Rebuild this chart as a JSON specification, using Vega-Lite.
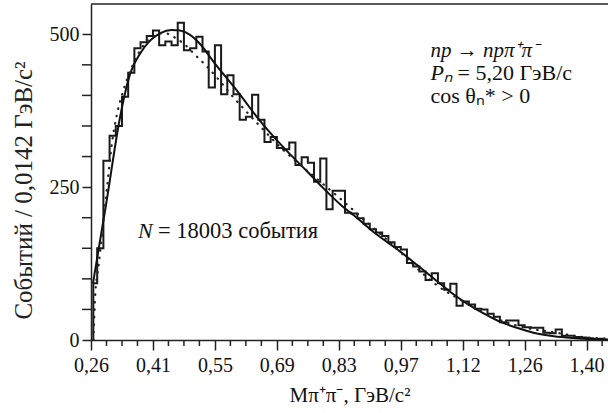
{
  "$schema": "https://vega.github.io/schema/vega-lite/v6.json",
  "width": 517,
  "height": 336,
  "autosize": {"type": "none"},
  "padding": {"left": 91, "right": 0, "top": 4, "bottom": 73},
  "background": "white",
  "config": {
    "view": {"stroke": null},
    "font": "Liberation Serif",
    "axis": {
      "grid": false,
      "domainColor": "#222",
      "domainWidth": 1.5,
      "tickColor": "#222",
      "tickWidth": 1.5,
      "labelColor": "#111",
      "labelFont": "Liberation Serif",
      "labelFontSize": 20,
      "titleFont": "Liberation Serif",
      "titleFontSize": 21,
      "titleFontWeight": "normal",
      "titleColor": "#111"
    }
  },
  "datasets": {
    "hist": [
      {"x": 0.2693, "n": 0},
      {"x": 0.2693, "n": 93},
      {"x": 0.2782, "n": 150},
      {"x": 0.2924, "n": 293},
      {"x": 0.3066, "n": 334},
      {"x": 0.3208, "n": 350},
      {"x": 0.3350, "n": 398},
      {"x": 0.3492, "n": 437},
      {"x": 0.3634, "n": 477},
      {"x": 0.3776, "n": 487},
      {"x": 0.3918, "n": 497},
      {"x": 0.4060, "n": 506},
      {"x": 0.4202, "n": 482},
      {"x": 0.4344, "n": 488},
      {"x": 0.4486, "n": 482},
      {"x": 0.4628, "n": 519},
      {"x": 0.4770, "n": 474},
      {"x": 0.4912, "n": 477},
      {"x": 0.5054, "n": 496},
      {"x": 0.5196, "n": 472},
      {"x": 0.5338, "n": 413},
      {"x": 0.5480, "n": 482},
      {"x": 0.5622, "n": 402},
      {"x": 0.5764, "n": 433},
      {"x": 0.5906, "n": 402},
      {"x": 0.6048, "n": 360},
      {"x": 0.6190, "n": 365},
      {"x": 0.6332, "n": 401},
      {"x": 0.6474, "n": 360},
      {"x": 0.6616, "n": 324},
      {"x": 0.6758, "n": 332},
      {"x": 0.6900, "n": 314},
      {"x": 0.7042, "n": 312},
      {"x": 0.7184, "n": 323},
      {"x": 0.7326, "n": 286},
      {"x": 0.7468, "n": 299},
      {"x": 0.7610, "n": 290},
      {"x": 0.7752, "n": 259},
      {"x": 0.7894, "n": 297},
      {"x": 0.8036, "n": 214},
      {"x": 0.8178, "n": 244},
      {"x": 0.8320, "n": 244},
      {"x": 0.8462, "n": 208},
      {"x": 0.8604, "n": 207},
      {"x": 0.8746, "n": 199},
      {"x": 0.8888, "n": 190},
      {"x": 0.9030, "n": 181},
      {"x": 0.9172, "n": 176},
      {"x": 0.9314, "n": 170},
      {"x": 0.9456, "n": 160},
      {"x": 0.9598, "n": 152},
      {"x": 0.9740, "n": 148},
      {"x": 0.9882, "n": 126},
      {"x": 1.0024, "n": 120},
      {"x": 1.0166, "n": 112},
      {"x": 1.0308, "n": 98},
      {"x": 1.0450, "n": 109},
      {"x": 1.0592, "n": 93},
      {"x": 1.0734, "n": 82},
      {"x": 1.0876, "n": 92},
      {"x": 1.1018, "n": 56},
      {"x": 1.1160, "n": 63},
      {"x": 1.1302, "n": 58},
      {"x": 1.1444, "n": 51},
      {"x": 1.1586, "n": 50},
      {"x": 1.1728, "n": 43},
      {"x": 1.1870, "n": 38},
      {"x": 1.2012, "n": 29},
      {"x": 1.2154, "n": 32},
      {"x": 1.2296, "n": 32},
      {"x": 1.2438, "n": 24},
      {"x": 1.2580, "n": 21},
      {"x": 1.2722, "n": 20},
      {"x": 1.2864, "n": 20},
      {"x": 1.3006, "n": 12},
      {"x": 1.3148, "n": 11},
      {"x": 1.3290, "n": 17},
      {"x": 1.3432, "n": 7},
      {"x": 1.3574, "n": 7},
      {"x": 1.3716, "n": 5},
      {"x": 1.3858, "n": 4},
      {"x": 1.4000, "n": 3},
      {"x": 1.4142, "n": 2},
      {"x": 1.4284, "n": 2},
      {"x": 1.4426, "n": 2}
    ],
    "solid": [
      {"x": 0.2686, "n": 93},
      {"x": 0.300, "n": 228},
      {"x": 0.331, "n": 366},
      {"x": 0.354, "n": 436},
      {"x": 0.377, "n": 469},
      {"x": 0.400, "n": 490},
      {"x": 0.423, "n": 502},
      {"x": 0.449, "n": 507},
      {"x": 0.468, "n": 506},
      {"x": 0.491, "n": 499},
      {"x": 0.514, "n": 484},
      {"x": 0.545, "n": 455},
      {"x": 0.606, "n": 401},
      {"x": 0.644, "n": 365},
      {"x": 0.682, "n": 333},
      {"x": 0.720, "n": 304},
      {"x": 0.759, "n": 276},
      {"x": 0.797, "n": 248},
      {"x": 0.835, "n": 222},
      {"x": 0.873, "n": 200},
      {"x": 0.920, "n": 172},
      {"x": 0.972, "n": 145},
      {"x": 1.011, "n": 123},
      {"x": 1.049, "n": 101},
      {"x": 1.087, "n": 79},
      {"x": 1.125, "n": 60},
      {"x": 1.163, "n": 44},
      {"x": 1.201, "n": 30},
      {"x": 1.240, "n": 20},
      {"x": 1.278, "n": 12},
      {"x": 1.317, "n": 7},
      {"x": 1.354, "n": 4},
      {"x": 1.392, "n": 2},
      {"x": 1.449, "n": 1}
    ],
    "dotted": [
      {"x": 0.2695, "n": 0},
      {"x": 0.274, "n": 77},
      {"x": 0.281, "n": 120},
      {"x": 0.301, "n": 251},
      {"x": 0.312, "n": 322},
      {"x": 0.324, "n": 371},
      {"x": 0.339, "n": 410},
      {"x": 0.358, "n": 447},
      {"x": 0.373, "n": 469},
      {"x": 0.404, "n": 496},
      {"x": 0.434, "n": 502},
      {"x": 0.450, "n": 497},
      {"x": 0.476, "n": 485},
      {"x": 0.503, "n": 466},
      {"x": 0.526, "n": 450},
      {"x": 0.560, "n": 423},
      {"x": 0.583, "n": 403},
      {"x": 0.617, "n": 376},
      {"x": 0.651, "n": 350},
      {"x": 0.697, "n": 316},
      {"x": 0.781, "n": 264},
      {"x": 0.816, "n": 243},
      {"x": 0.842, "n": 227},
      {"x": 0.869, "n": 210},
      {"x": 0.920, "n": 178},
      {"x": 0.970, "n": 146},
      {"x": 1.010, "n": 118},
      {"x": 1.056, "n": 90},
      {"x": 1.120, "n": 62},
      {"x": 1.200, "n": 33},
      {"x": 1.260, "n": 20},
      {"x": 1.331, "n": 12},
      {"x": 1.354, "n": 9},
      {"x": 1.389, "n": 5},
      {"x": 1.423, "n": 3},
      {"x": 1.449, "n": 2}
    ],
    "xminor": [
      {"x": 0.2995}, {"x": 0.335}, {"x": 0.3705}, {"x": 0.4415}, {"x": 0.477}, {"x": 0.5125},
      {"x": 0.5835}, {"x": 0.619}, {"x": 0.6545}, {"x": 0.7255}, {"x": 0.761}, {"x": 0.7965},
      {"x": 0.8675}, {"x": 0.903}, {"x": 0.9385}, {"x": 1.0095}, {"x": 1.045}, {"x": 1.0805},
      {"x": 1.1515}, {"x": 1.187}, {"x": 1.2225}, {"x": 1.2935}, {"x": 1.329}, {"x": 1.3645},
      {"x": 1.4355}
    ],
    "yminor": [
      {"n": 50}, {"n": 100}, {"n": 150}, {"n": 200}, {"n": 300}, {"n": 350}, {"n": 400}, {"n": 450}
    ]
  },
  "layer": [
    {
      "data": {"name": "hist"},
      "mark": {"type": "line", "interpolate": "step-after", "color": "#1a1a1a", "strokeWidth": 2},
      "encoding": {
        "x": {
          "field": "x", "type": "quantitative",
          "scale": {"domain": [0.264, 1.449], "nice": false, "zero": false},
          "axis": {
            "orient": "bottom",
            "values": [0.264, 0.406, 0.548, 0.690, 0.832, 0.974, 1.116, 1.258, 1.400],
            "labelExpr": "replace(format(datum.value, '.2f'), '.', ',')",
            "tickSize": 10,
            "labelPadding": 5,
            "labelFlush": false,
            "labelOverlap": false,
            "labelBound": false,
            "title": "Mπ⁺π⁻, ГэВ/c²",
            "titlePadding": 9
          }
        },
        "y": {
          "field": "n", "type": "quantitative",
          "scale": {"domain": [0, 549.5], "nice": false, "zero": true},
          "axis": {
            "values": [0, 250, 500],
            "labelOverlap": false,
            "tickSize": 9,
            "labelPadding": 3,
            "title": "Событий / 0,0142 ГэВ/c²",
            "titleFont": "Liberation Serif",
            "titleFontWeight": "normal",
            "titleFontSize": 25,
            "titleColor": "#222",
            "titleY": 186,
            "titlePadding": 13
          }
        }
      }
    },
    {
      "data": {"name": "xminor"},
      "mark": {"type": "rule", "color": "#222", "strokeWidth": 1.5, "y2Offset": 6},
      "encoding": {
        "x": {"field": "x", "type": "quantitative"},
        "y": {"datum": 0, "type": "quantitative"},
        "y2": {"datum": 0}
      }
    },
    {
      "data": {"name": "yminor"},
      "mark": {"type": "rule", "color": "#222", "strokeWidth": 1.5, "x2Offset": -9},
      "encoding": {
        "y": {"field": "n", "type": "quantitative"},
        "x": {"datum": 0.264, "type": "quantitative"},
        "x2": {"datum": 0.264}
      }
    },
    {
      "data": {"name": "solid"},
      "mark": {"type": "line", "interpolate": "monotone", "color": "#111", "strokeWidth": 2},
      "encoding": {
        "x": {"field": "x", "type": "quantitative"},
        "y": {"field": "n", "type": "quantitative"}
      }
    },
    {
      "data": {"name": "dotted"},
      "mark": {"type": "line", "interpolate": "monotone", "color": "#222", "strokeWidth": 2.2, "strokeDash": [0.5, 7], "strokeCap": "round"},
      "encoding": {
        "x": {"field": "x", "type": "quantitative"},
        "y": {"field": "n", "type": "quantitative"}
      }
    },
    {
      "data": {"values": [{}]},
      "mark": {"type": "rule", "color": "#222", "strokeWidth": 1.5},
      "encoding": {
        "y": {"datum": 549.5, "type": "quantitative"}
      }
    },
    {
      "data": {"values": [{"t": "np → npπ⁺π⁻"}]},
      "mark": {"type": "text", "align": "left", "baseline": "alphabetic", "fontSize": 21, "fontStyle": "italic", "color": "#111", "font": "Liberation Serif"},
      "encoding": {
        "x": {"datum": 1.042, "type": "quantitative"},
        "y": {"datum": 463, "type": "quantitative"},
        "text": {"field": "t"}
      }
    },
    {
      "data": {"values": [{"t": "Pₙ"}]},
      "mark": {"type": "text", "align": "left", "baseline": "alphabetic", "fontSize": 22, "fontStyle": "italic", "color": "#111", "font": "Liberation Serif"},
      "encoding": {
        "x": {"datum": 1.042, "type": "quantitative"},
        "y": {"datum": 425, "type": "quantitative"},
        "text": {"field": "t"}
      }
    },
    {
      "data": {"values": [{"t": "= 5,20 ГэВ/c"}]},
      "mark": {"type": "text", "align": "left", "baseline": "alphabetic", "fontSize": 22, "color": "#111", "font": "Liberation Serif"},
      "encoding": {
        "x": {"datum": 1.104, "type": "quantitative"},
        "y": {"datum": 425, "type": "quantitative"},
        "text": {"field": "t"}
      }
    },
    {
      "data": {"values": [{"t": "cos θₙ* > 0"}]},
      "mark": {"type": "text", "align": "left", "baseline": "alphabetic", "fontSize": 22, "color": "#111", "font": "Liberation Serif"},
      "encoding": {
        "x": {"datum": 1.042, "type": "quantitative"},
        "y": {"datum": 388, "type": "quantitative"},
        "text": {"field": "t"}
      }
    },
    {
      "data": {"values": [{"t": "N"}]},
      "mark": {"type": "text", "align": "left", "baseline": "alphabetic", "fontSize": 22, "fontStyle": "italic", "color": "#111", "font": "Liberation Serif"},
      "encoding": {
        "x": {"datum": 0.3717, "type": "quantitative"},
        "y": {"datum": 167, "type": "quantitative"},
        "text": {"field": "t"}
      }
    },
    {
      "data": {"values": [{"t": "= 18003 события"}]},
      "mark": {"type": "text", "align": "left", "baseline": "alphabetic", "fontSize": 22.5, "color": "#111", "font": "Liberation Serif"},
      "encoding": {
        "x": {"datum": 0.4175, "type": "quantitative"},
        "y": {"datum": 167, "type": "quantitative"},
        "text": {"field": "t"}
      }
    }
  ]
}
